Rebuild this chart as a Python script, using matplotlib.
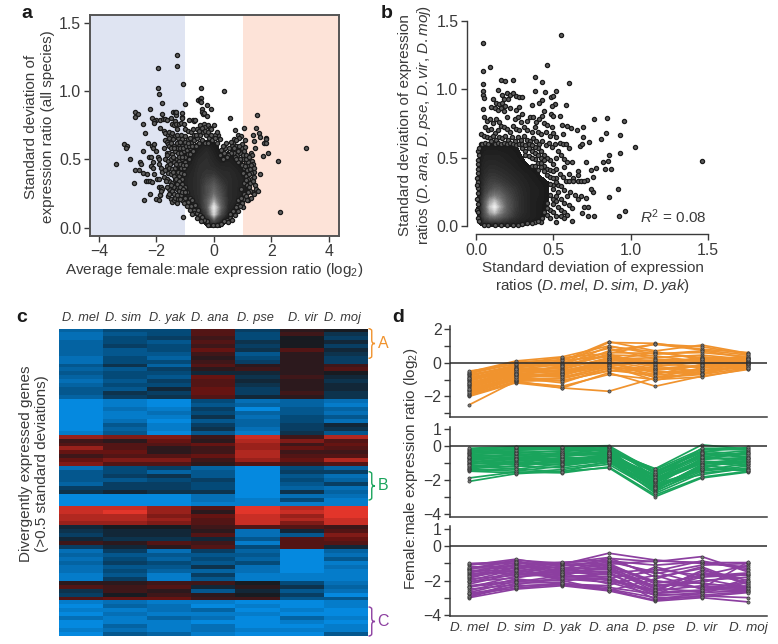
import matplotlib
matplotlib.use("Agg")
import matplotlib.pyplot as plt
import numpy as np
from matplotlib.colors import LinearSegmentedColormap, Normalize
from matplotlib.path import Path
from matplotlib.patches import PathPatch

plt.rcParams['font.family'] = ['Liberation Sans', 'DejaVu Sans']
plt.rcParams['mathtext.fontset'] = 'custom'
plt.rcParams['mathtext.rm'] = 'Liberation Sans'
plt.rcParams['mathtext.it'] = 'Liberation Sans:italic'
plt.rcParams['mathtext.bf'] = 'Liberation Sans:bold'

# ---------- DATA ----------
SPECIES = ['D. mel', 'D. sim', 'D. yak', 'D. ana', 'D. pse', 'D. vir', 'D. moj']

# Panel a: sparse points (ratio, sd)
A_POINTS = [
(-3.42,.47),(-3.13,.61),(-3.03,.60),(-3.06,.58),(-2.92,.50),(-2.75,.85),(-2.74,.81),(-2.63,.83),(-2.48,.76),(-2.40,.695),
(-2.24,.865),(-2.31,.62),(-2.47,.56),(-2.76,.42),(-2.77,.325),(-2.60,.425),(-2.58,.48),(-2.55,.47),(-2.46,.40),(-2.32,.395),
(-2.36,.34),(-2.28,.34),(-2.22,.345),(-2.16,.335),(-2.45,.205),(-2.21,.25),(-2.0,.21),(-1.9,.20),(-2.27,.52),(-2.2,.515),
(-2.13,.48),(-2.18,.45),(-2.12,.44),(-2.07,.39),(-1.98,.36),(-1.92,.355),(-1.88,.24),(-1.86,.24),(-1.9,.3),(-1.85,.3),
(-1.8,.28),(-1.85,.27),(-2.15,.60),(-2.12,.58),(-2.1,.61),(-2.0,.56),(-1.95,.52),(-1.9,.5),(-1.9,.47),(-1.85,.44),
(-1.8,.41),(-1.75,.37),(-1.93,1.165),(-1.27,1.26),(-1.28,1.18),(-1.07,1.05),(-1.94,1.025),(-1.9,.98),(-1.81,.915),(-2.0,.79),
(-2.15,.80),(-2.08,.78),(-2.1,.765),(-1.88,.73),(-1.8,.83),(-1.87,.79),(-1.78,.795),(-1.7,.795),(-1.62,.79),(-1.5,.80),
(-1.42,.845),(-1.35,.85),(-1.32,.825),(-1.33,.85),(-1.1,.84),(-1.1,.81),(-1.12,.80),(-1.0,.905),(-.88,.79),(-.73,.785),
(-.7,.78),(-.67,.79),(-.55,.935),(-.5,.945),(-.45,.95),(-.47,.93),(-.44,.92),(-.45,1.02),(.36,1.0),(-.25,.9),
(-.1,.87),(-.42,.87),(-.4,.85),(-.38,.83),(-.35,.84),(-.25,.815),(.55,.80),(-1.35,.78),(-1.45,.76),(-1.4,.75),
(-1.32,.76),(-1.2,.76),(-1.15,.765),(-1.05,.76),(-1.3,.72),(-1.0,.72),(-.9,.71),(-.8,.70),(-.7,.68),(-.6,.72),
(-.5,.75),(-.35,.76),(-.3,.74),(-.2,.75),(-.15,.73),(-.1,.72),(0,.75),(-1.75,.71),(-1.7,.69),(-1.6,.68),
(-1.55,.7),(-1.5,.68),(-1.45,.69),(-1.35,.67),(-1.25,.66),(-1.15,.68),(-1.1,.65),(-1.7,.64),(-1.65,.63),(-1.6,.61),
(-1.55,.6),(-1.5,.62),(-1.4,.6),(-1.3,.62),(-1.2,.6),(-1.1,.6),(-1.0,.63),(-.9,.65),(-.8,.62),(-.7,.6),
(-1.75,.58),(-1.65,.55),(-1.55,.55),(-1.45,.54),(-1.35,.56),(-1.25,.55),(-1.15,.55),(-1.05,.56),(-.95,.57),(-.85,.58),
(-1.7,.5),(-1.6,.49),(-1.5,.5),(-1.4,.48),(-1.3,.5),(-1.2,.49),(-1.1,.5),(-1.0,.52),(-1.65,.45),(-1.55,.44),
(-1.45,.43),(-1.35,.44),(-1.25,.45),(-1.15,.44),(-1.6,.4),(-1.5,.39),(-1.4,.38),(-1.3,.4),(-1.2,.38),(-1.55,.34),
(-1.45,.33),(-1.35,.35),(-1.55,.28),(-1.5,.26),(-1.45,.27),(-1.4,.3),(-1.3,.28),(-1.25,.3),(-1.2,.27),(-1.6,.23),
(-1.5,.21),(-1.45,.19),(-1.4,.2),(-1.35,.22),(-1.3,.18),(-1.25,.21),(-1.15,.24),(-1.1,.2),(-1.0,.22),(-1.07,.08),
(-.9,.19),(-.8,.16),(-.7,.13),(-.68,.11),(-.6,.11),(-.55,.13),(-.5,.09),
(1.485,.824),(1.45,.73),(1.58,.695),(1.80,.66),(1.80,.65),(1.74,.62),(1.80,.62),(1.89,.546),(1.70,.527),(1.44,.583),
(1.39,.633),(1.37,.68),(1.6,.665),(1.03,.73),(.85,.68),(.73,.715),(.7,.65),(.95,.67),(.87,.66),(1.08,.64),
(.82,.585),(.98,.58),(1.08,.59),(1.03,.56),(.43,.62),(.6,.58),(1.3,.545),(1.33,.53),(2.24,.49),(3.2,.58),
(2.3,.117),(1.6,.39),(1.39,.41),(1.31,.49),(1.35,.47),(1.48,.28),(1.53,.27),(1.43,.31),(1.32,.26),(1.0,.15),
(1.2,.2),(1.3,.22),(1.24,.27),(1.38,.25),(1.04,.21),(.79,.17),(.56,.07),
(1.0,.5),(1.1,.48),(1.2,.46),(1.05,.44),(1.15,.42),(1.25,.43),(1.0,.4),(1.1,.38),(1.2,.36),(1.3,.4),
(1.05,.33),(1.15,.31),(1.25,.33),(.95,.28),(1.05,.25),(.85,.2),(.95,.22),(.75,.15),(.65,.12),(.55,.1),
(.45,.06),(.35,.05),(.25,.03),(-.05,.02),(-.2,.02),(-.25,.05),(-.35,.06),(-.4,.08),(.1,.02),(.7,.55),
(.8,.53),(.9,.55),(.6,.55),(.5,.53),(.75,.6),(.65,.62),(.4,.58),(.3,.6),(.2,.65),(.15,.68),
(.1,.62),(.05,.68),(-1.05,.44),(-1.1,.36),(-1.0,.3),(-.95,.26),(-.85,.22),(-.75,.2),(-.65,.17),
(-1.28,.58),(-1.18,.58),(-1.08,.58),(-.98,.6),(-.88,.6),(-.78,.6),(-.68,.64),(-.58,.66),(-.48,.68),(-.38,.7),
(-.28,.68),(-.18,.66),(-.08,.64),(.02,.66),(.12,.7),(-.62,.6),(-.52,.62),(-.42,.64),(-.32,.62),(-.22,.62),
(-1.22,.52),(-1.12,.52),(-1.02,.48),(-.92,.54),(-.82,.54),(-.72,.56),(-1.28,.46),(-1.18,.47),(-1.08,.46),(-.98,.46),
(-.88,.5),(-1.25,.41),(-1.15,.4),(-1.05,.39),(-1.32,.36),(-1.22,.34),(-1.12,.32),(-1.28,.32),(-1.18,.3),(-1.08,.28),
(-1.12,.26),(-1.02,.26),(-1.05,.18),(-.95,.16),(-.85,.13),(-.75,.1),(-.6,.07),(-.45,.05),
(.98,.46),(1.08,.45),(1.18,.48),(1.28,.46),(1.13,.35),(1.23,.3),(1.18,.26),(1.1,.23),(1.15,.2),(.98,.18),
(.9,.16),(.82,.12),(.72,.09),(.62,.06),(.5,.04),(1.12,.5),(1.02,.53),(.92,.5),(.82,.56),(.62,.6),(.52,.58),
(.35,.55),(.25,.57),(.45,.52),(.72,.52),(.3,.5),(.22,.53),(.85,.48),(.78,.5),(1.22,.39),(1.32,.36),
(-1.62,.53),(-1.52,.47),(-1.42,.52),(-1.32,.47),(-1.48,.58),(-1.38,.58),(-1.58,.66),(-1.42,.65),(-1.28,.68),(-1.18,.63),
(-1.02,.67),(-.92,.62),(-.82,.66),(-.72,.72),(-.62,.68),(-.52,.71),(-.42,.73),(-.32,.71),(-.22,.7),(-.12,.68),
(-1.62,.36),(-1.5,.31),(-1.38,.25),(-1.28,.24),(-1.18,.21),(-1.62,.3),(-1.7,.42),(-1.68,.34),(-1.58,.25),(-1.42,.41),
(.98,.61),(.88,.6),(.78,.64),(.68,.58),(.58,.63),(1.12,.53),(1.22,.52),(1.38,.44),(1.36,.34),(1.4,.37),
]
A_DENS_X = [-1.5,-1.25,-1,-.75,-.5,-.25,0,.25,.5,.75,1,1.25]
A_DENS_Y = [0,.05,.10,.15,.20,.25,.30,.35,.40,.45,.50,.55,.60,.65]
A_DENS = [
[0,0,0,0,0,.2,.6,.2,0,0,0,0],
[0,0,0,0,.1,1.2,3,1.2,.35,0,0,0],
[0,0,0,.1,.8,2.5,7.5,3,1,.2,0,0],
[0,0,.1,.7,1.3,3.5,8.5,4,1.4,.7,.1,0],
[0,.1,.6,1.2,1.7,3.5,6,3.5,1.6,1.2,.6,0],
[0,.3,.9,1.3,1.8,3,4.5,3,1.6,1.3,.9,.15],
[0,.7,1.1,1.4,1.8,3,3.8,2.6,1.6,1.3,1,.3],
[.1,.8,1.1,1.4,1.8,2.5,3,2,1.6,1.3,1,.3],
[.1,.6,1,1.3,1.8,2,2,1.6,1.5,1.2,.8,.1],
[0,.4,.8,1.1,1.7,1.8,1.5,1.2,1.2,.9,.5,0],
[0,.2,.6,.9,1.5,1.7,1.2,.6,.9,.6,.1,0],
[0,0,.3,.6,1.1,1.5,.9,.3,.4,.1,0,0],
[0,0,0,.3,.8,1.1,.6,.1,0,0,0,0],
[0,0,0,0,.1,.2,.1,0,0,0,0,0],
]

# Panel b: sparse points (sd 1, sd 2)
B_POINTS = [
(.047,1.335),(.547,1.397),(.457,1.176),(.09,1.16),(.043,1.13),(.237,1.07),(.164,1.07),(.19,1.06),(.38,1.09),(.43,1.055),
(.6,1.047),(.045,1.037),(.14,.993),(.045,.983),(.384,.986),(.446,.98),(.52,.988),(.047,.957),(.05,.938),(.487,.945),
(.5,.95),(.43,.92),(.405,.896),(.36,.884),(.58,.886),(.51,.89),(.49,.877),(.047,.855),(.437,.842),(.54,.803),
(.487,.818),(.495,.803),(.43,.803),(.763,.78),(.847,.79),(.957,.77),(.84,.677),(.93,.665),(.806,.633),(.73,.616),
(.672,.587),(.683,.6),(.694,.653),(.69,.725),(.65,.7),(.614,.713),(.586,.73),(.554,.738),(1.028,.577),(.933,.536),
(1.461,.472),(.862,.516),(.851,.477),(.82,.465),(.87,.42),(.834,.42),(.776,.426),(.71,.465),(.745,.409),(.759,.36),
(.715,.336),(.759,.25),(.741,.268),(.92,.273),(.858,.21),(.711,.202),(.965,.107),(.922,.073),(.763,.073),(.722,.073),
(.619,.039),(.683,.097),(.7,.14),(.725,.136),(.52,.03),
(.11,.93),(.13,.9),(.15,.89),(.17,.9),(.19,.88),(.21,.93),(.2,.97),(.22,.96),(.24,.97),(.26,.95),(.28,.94),(.3,.94),
(.17,.96),(.18,.93),(.1,.87),(.12,.86),(.14,.85),(.16,.86),(.18,.84),(.22,.86),(.26,.85),(.28,.87),(.3,.82),(.35,.8),
(.37,.8),(.05,.8),(.07,.77),(.09,.78),(.11,.75),(.13,.78),(.15,.76),(.2,.8),(.25,.78),(.27,.8),(.29,.76),(.33,.77),
(.39,.76),(.41,.78),(.44,.75),(.46,.74),(.49,.72),(.06,.72),(.08,.7),(.1,.71),(.12,.68),(.14,.7),(.16,.73),(.18,.72),
(.2,.71),(.22,.69),(.24,.73),(.26,.71),(.28,.7),(.31,.72),(.33,.7),(.36,.69),(.38,.72),(.4,.69),(.42,.67),(.45,.69),
(.48,.66),(.5,.68),(.52,.65),(.56,.67),(.03,.67),(.05,.66),(.07,.65),(.09,.64),(.11,.66),(.13,.63),(.15,.65),(.17,.64),
(.19,.66),(.21,.63),(.23,.65),(.25,.62),(.27,.65),(.29,.63),(.31,.66),(.33,.63),(.35,.62),(.37,.64),(.39,.62),(.41,.6),
(.43,.62),(.45,.59),(.47,.61),(.49,.58),(.51,.6),(.54,.61),(.56,.6),(.58,.6),(.6,.57),(.53,.55),(.55,.52),(.57,.49),
(.59,.47),(.62,.47),(.66,.4),(.66,.37),(.63,.35),(.6,.38),(.57,.43),(.52,.5),(.5,.45),(.48,.48),(.46,.5),(.44,.52),
(.42,.55),(.4,.57),(.38,.58),(.36,.55),(.34,.57),(.32,.55),(.3,.57),(.42,.5),(.4,.46),(.38,.49),(.36,.44),(.44,.44),
(.46,.42),(.48,.41),(.5,.4),(.52,.42),(.54,.38),(.56,.36),(.58,.33),(.6,.33),(.63,.33),(.66,.33),(.68,.33),(.7,.33),
(.52,.35),(.5,.3),(.53,.3),(.55,.29),(.57,.26),(.59,.22),(.61,.25),(.64,.23),(.66,.2),(.68,.22),(.53,.25),(.5,.2),
(.52,.18),(.55,.2),(.57,.17),(.6,.15),(.62,.13),(.55,.12),(.57,.1),(.59,.08),(.53,.14),(.48,.12),(.5,.1),(.52,.07),
(.55,.07),(.57,.06),(.46,.08),(.43,.06),(.42,.03),(.38,.03),(.33,.02),(.27,.01),(.2,.01),(.12,.005),(.05,.005),
(.01,.06),(.005,.12),(.005,.2),(.01,.28),(.005,.35),(.01,.42),(.015,.48),(.01,.55),(.03,.6),(.02,.04),
(.04,.6),(.06,.61),(.08,.6),(.1,.62),(.12,.6),(.14,.61),(.16,.6),(.18,.61),(.2,.6),(.22,.61),(.24,.6),(.26,.59),
(.28,.6),(.3,.6),(.32,.59),(.34,.6),(.36,.59),(.32,.52),(.34,.51),(.36,.5),(.38,.53),(.4,.52),(.42,.46),(.44,.48),
(.38,.44),(.4,.41),(.42,.43),(.44,.4),(.46,.37),(.48,.36),(.5,.35),(.52,.32),(.48,.31),(.5,.27),(.52,.22),(.48,.23),
(.5,.16),(.46,.17),(.48,.06),(.44,.1),(.46,.13),(.4,.04),(.36,.02),(.3,.015),(.24,.01),(.16,.01),(.08,.005),(.015,.1),
(.01,.16),(.012,.24),(.015,.32),(.012,.39),(.015,.45),(.02,.52),(.02,.57),(.008,.3),
]
B_DENS_X = [0,.03,.06,.09,.12,.15,.2,.25,.3,.35,.4,.45,.5]
B_DENS_Y = [0,.03,.07,.1,.14,.18,.22,.27,.32,.37,.42,.47,.52,.57,.62]
B_DENS = [
[0,.3,.5,.5,.5,.5,.4,.4,.3,0,0,0,0],
[0,1.2,1.8,2,2,2,1.6,1.3,1,.7,.5,.2,0],
[0,1.5,3.2,4.4,4.8,4.2,3,2,1.3,1,.7,.3,0],
[0,1.6,3.6,6,7,5.5,3.6,2.2,1.5,1,.7,.4,0],
[0,1.6,4,7,9,6.5,3.8,2.4,1.5,1,.7,.4,0],
[0,1.5,3.8,6,7,5.6,3.6,2.4,1.5,1,.7,.5,0],
[0,1.3,3,4.4,5,4.6,3.2,2.2,1.5,1,.8,.5,.1],
[0,1.2,2.4,3,3.5,3.4,2.6,2,1.4,1,.8,.5,.1],
[0,1.1,2,2.5,2.6,2.4,2,1.6,1.2,.9,.6,.5,.1],
[0,1,1.7,2,2,1.9,1.6,1.3,1,.7,.5,0,0],
[0,.9,1.4,1.6,1.6,1.5,1.3,1,.7,.5,.2,0,0],
[0,.8,1.2,1.3,1.3,1.2,1,.8,.5,.1,0,0,0],
[0,.6,1,1,1,1,.8,.6,.3,0,0,0,0],
[0,.4,.6,.7,.7,.6,.6,.5,.1,0,0,0,0],
[0,0,0,0,0,0,0,0,0,0,0,0,0],
]

# Panel c: heat map, one row per gene cluster line, one value per species (-9 blue .. +9 red)
HEAT = [
[-6,-4,-4,3,-3,1,0],[-7,-5,-4,3,-4,2,-2],[-7,-4,-3,2,-4,0,-3],[-6,-4,-5,3,-2,0,-1],[-6,-3,-4,2,-3,0,-3],
[-6,-5,-4,4,-2,3,-1],[-6,-5,-5,2,-5,1,-2],[-7,-4,-6,1,-4,1,-3],[-7,-4,-4,2,-3,1,-3],
[-5,-2,-6,3,1,1,2],[-6,-5,-3,1,2,1,3],[-5,-4,-4,-1,-1,1,0],[-6,-4,-5,4,-2,2,-1],
[-7,-5,-3,3,-1,1,-2],[-6,-4,-4,3,-2,1,-1],[-5,-5,-1,4,-3,1,-1],[-5,-2,-3,4,-3,2,-2],[-6,-3,-2,3,-1,1,-2],
[-9,-8,-9,-4,-7,-6,-7],[-9,-8,-9,-5,-6,-6,-8],[-9,-7,-8,-3,-9,-5,-6],[-9,-8,-7,-4,-6,-5,-7],[-9,-8,-8,-2,-7,-4,-5],
[-9,-7,-9,-5,-6,-4,-7],[-9,-5,-8,-3,-6,-3,-1],[-9,-6,-8,-2,-7,-3,-2],[-8,-5,-9,-5,-8,-2,-5],
[6,5,5,2,8,2,7],[2,1,4,1,7,5,3],[3,3,3,4,6,2,4],[6,3,1,2,6,4,3],[4,4,1,2,7,2,2],
[2,3,3,4,7,3,3],[4,5,5,2,6,4,7],[5,3,3,1,3,2,3],
[-7,-4,-3,-6,-9,-4,-6],[-5,-4,-6,-5,-9,-3,-3],[-5,-3,-2,-5,-9,-5,-7],[-5,-5,-4,-3,-9,-4,-6],[-6,-3,-3,-4,-9,-5,-3],
[-3,-3,-3,-4,-9,-6,-7],[-2,-1,-2,-2,-9,-2,-6],
[-9,-9,-9,-7,-9,-7,-7],[-9,-9,-9,-7,-8,-4,-8],[-9,-9,-9,-8,-8,-8,-8],
[8,8,6,3,9,7,9],[8,9,6,1,9,8,9],[7,7,5,4,8,6,9],[7,7,6,3,8,7,8],[6,6,5,3,8,5,8],
[-1,0,0,2,3,3,2],[-2,-1,-1,1,-7,-1,3],[-3,-1,-1,3,-7,-5,5],[-1,-2,-2,-1,-5,3,4],[2,1,3,2,-8,3,3],[-3,-1,1,3,-4,3,-1],
[-7,-3,-7,-3,-6,-9,-6],[-6,-5,-5,-5,-5,-9,-7],[-7,-4,-6,-4,-6,-9,-5],[-6,-3,-4,-5,-4,-9,-8],[-7,-5,-5,-2,-7,-9,-7],
[-7,-4,-6,-6,-7,-9,-8],[-8,-5,-8,-3,-8,-8,-8],[-8,-3,-8,-5,-8,-8,-8],
[1,1,2,2,0,-4,-7],[3,2,3,-1,1,-2,-6],[-2,2,1,-5,-1,-5,-7],[-3,0,2,1,0,-3,-9],[3,4,4,2,2,-5,-5],
[-8,-7,-8,-8,-9,-9,-8],[-9,-6,-7,-9,-8,-9,-8],[-8,-8,-7,-6,-9,-8,-9],[-9,-7,-8,-8,-8,-9,-9],[-7,-8,-6,-7,-9,-6,-8],
[-9,-8,-8,-9,-9,-8,-9],[-9,-6,-8,-7,-9,-9,-8],[-8,-7,-8,-7,-8,-8,-8],[-9,-5,-6,-8,-9,-9,-5],
]

# Panel d: log2 ratios per gene across species
GROUP_A = [
[-2.5,-1.1,-1.5,-1.7,-.9,-.7,-.3],[-2.0,-1.2,-1.5,-.6,-1.4,-.8,-.4],[-1.95,-1.15,-1.4,-.7,-1.0,-.85,-.35],[-1.9,-1.1,-1.05,-.5,-.4,-.2,.1],
[-1.85,-1.0,-.9,-.2,-1.05,-.5,-.2],[-1.8,-.9,-1.2,-.3,-.85,-.65,-.1],[-1.7,-.85,-.8,.15,.6,.3,.2],[-1.65,-.8,-.6,.0,-.6,-.4,-.25],
[-1.6,-1.05,-.95,-.35,-.3,-.5,.05],[-1.5,-.75,-.4,.3,.1,.1,.3],[-1.45,-.7,-.75,.1,-.9,-.3,-.15],[-1.4,-.6,-.2,.5,-.2,.0,.1],
[-1.35,-.65,-.5,-.1,-.45,-.2,-.1],[-1.3,-.55,-.3,.7,1.1,.75,.45],[-1.25,-.5,-.55,.2,.3,.45,.2],[-1.2,-.45,-.7,-.2,-.7,-.1,.0],
[-1.15,-.75,-.15,.95,.65,.2,.3],[-1.1,-.4,-.1,.4,.0,-.3,-.05],[-1.05,-.35,-.35,.25,-.15,.35,.15],[-1.0,-.3,-.05,1.2,1.15,.8,.6],
[-.95,-.6,-.25,.45,.4,.05,.25],[-.9,-.25,.0,.6,.55,.6,.35],[-.85,-.5,-.45,-.05,-.55,-.6,-.2],[-.8,-.2,.1,1.25,.7,1.05,.55],
[-.75,-.15,.2,.85,.2,.15,.4],[-.7,-.3,-.6,-.15,.05,-.05,.05],[-.65,-.05,.3,.55,1.1,.95,.5],[-.6,.05,.15,.35,-.1,.25,.1],
[-.55,.1,.35,1.0,.5,.7,.3],[-.5,-.1,-.2,.05,-.35,-.15,-.05],[-1.75,-.95,-.65,.2,-.25,.1,.05],[-1.55,-.85,-1.1,-.45,-.75,-.45,-.3],
[-1.2,-.65,-.85,-.25,-.5,-.7,.0],[-.9,-.4,-.5,.1,.15,.2,.2],
]
GROUP_B = [
[-2.1,-1.65,-1.5,-1.3,-3.0,-1.9,-1.55],[-1.9,-1.55,-1.6,-1.25,-2.9,-1.85,-1.5],[-1.5,-1.6,-1.4,-1.1,-2.65,-1.5,-1.2],[-1.45,-1.35,-1.55,-.9,-2.5,-1.4,-1.4],
[-1.4,-1.5,-1.2,-.8,-2.6,-1.1,-.9],[-1.35,-1.2,-1.3,-1.0,-2.3,-1.7,-1.3],[-1.3,-1.05,-1.0,-.75,-2.2,-.9,-1.1],[-1.25,-.95,-1.15,-.9,-2.4,-1.3,-1.5],
[-1.2,-1.25,-.85,-.6,-2.1,-.8,-.7],[-1.1,-.9,-.7,-.7,-2.55,-1.2,-.95],[-1.05,-1.1,-1.1,-.85,-2.0,-1.0,-1.2],[-1.0,-.8,-.95,-.65,-1.9,-.7,-.8],
[-.95,-.75,-.6,-.5,-2.25,-1.45,-1.05],[-.9,-1.0,-.75,-.95,-2.7,-1.35,-.6],[-.85,-.65,-.9,-.55,-1.8,-.6,-1.0],[-.8,-.7,-.5,-.4,-2.15,-1.05,-.75],
[-.75,-.55,-.85,-.7,-1.7,-.55,-.5],[-.7,-.85,-.45,-.45,-2.05,-.95,-.9],[-.65,-.5,-.65,-.3,-1.6,-.4,-.65],[-.6,-.6,-.4,-.6,-2.35,-.75,-.45],
[-.55,-.35,-.55,-.35,-1.95,-.85,-.35],[-.5,-.45,-.3,-.25,-1.5,-.3,-.55],[-.45,-.3,-.35,-.15,-2.45,-1.25,-.85],[-.4,-.2,-.2,-.5,-1.75,-.5,-.3],
[-.35,-.4,-.5,-.2,-1.4,-.2,-.25],[-.3,-.15,-.25,-.1,-1.65,-.65,-.4],[-.25,-.25,-.15,-.05,-1.85,-.15,-.15],[-.2,-.1,-.1,-.35,-1.35,.05,-.2],
[-.15,-.05,-.05,0.0,-1.55,-.35,-.1],[-1.15,-1.4,-1.05,-.8,-2.8,-1.6,-1.35],[-.88,-1.15,-.8,-.55,-2.5,-1.15,-1.45],[-.68,-.78,-.6,-.42,-2.0,-.45,-.7],
]
GROUP_C = [
[-3.0,-2.5,-2.3,-2.6,-3.2,-3.0,-3.25],[-2.95,-2.3,-2.25,-2.55,-3.15,-2.9,-3.0],[-2.9,-2.15,-2.1,-1.5,-2.9,-2.7,-2.6],[-2.8,-2.45,-2.2,-2.4,-2.8,-2.85,-2.65],
[-2.7,-2.05,-1.95,-1.9,-2.6,-2.3,-2.5],[-2.6,-1.9,-2.2,-2.3,-1.2,-1.9,-2.4],[-2.5,-2.25,-1.8,-1.6,-2.75,-2.6,-2.3],[-2.4,-1.75,-1.65,-1.2,-2.45,-2.65,-1.9],
[-2.3,-2.0,-2.0,-2.6,-1.9,-1.2,-2.2],[-2.2,-1.6,-1.5,-1.0,-2.2,-2.4,-2.55],[-2.1,-1.5,-1.9,-2.1,-2.85,-1.6,-1.7],[-2.05,-1.85,-1.4,-.9,-1.5,-2.2,-2.35],
[-2.0,-1.35,-1.75,-1.75,-3.1,-2.75,-2.1],[-1.9,-1.7,-1.3,-.7,-.9,-.6,-1.5],[-1.85,-1.25,-1.6,-1.45,-2.3,-2.0,-1.8],[-1.8,-1.2,-1.25,-1.3,-2.65,-1.4,-2.0],
[-1.7,-1.1,-1.55,-2.2,-1.7,-2.5,-2.6],[-1.6,-1.55,-1.15,-.85,-1.1,-.9,-1.3],[-1.55,-1.05,-1.45,-1.35,-2.5,-1.8,-1.65],[-1.5,-.95,-1.1,-1.1,-2.05,-2.15,-2.45],
[-1.4,-1.45,-1.05,-.4,-.8,-1.0,-1.2],[-1.35,-.85,-1.35,-1.55,-1.35,-1.7,-1.1],[-1.3,-.8,-1.0,-1.25,-2.35,-2.1,-1.6],[-1.25,-1.3,-.98,-.65,-1.8,-1.3,-2.25],
[-1.2,-1.15,-.95,-1.05,-.85,-.95,-.95],[-1.1,-.75,-1.2,-1.95,-2.55,-1.5,-2.15],[-1.05,-1.0,-.93,-.8,-1.6,-1.1,-1.0],[-1.0,-.9,-1.5,-1.65,-2.0,-2.45,-.9],
[-2.75,-2.35,-2.15,-2.5,-3.0,-2.95,-2.7],[-2.35,-2.1,-1.7,-2.0,-2.7,-2.55,-2.05],[-1.75,-1.4,-1.85,-1.85,-1.45,-.85,-1.4],[-1.45,-1.65,-1.6,-1.15,-2.15,-1.75,-1.55],
]

A_SHADE_X = [-1, 1]
BAND_LEFT, BAND_RIGHT = '#dfe4f2', '#fde3d8'
INK = '#3a3a3a'
ORANGE, GREEN, PURPLE = '#f0932e', '#1aa45c', '#8c3fa0'
W, H = 778, 644

fig = plt.figure(figsize=(W/100, H/100), dpi=100)

def ax_px(l, t, r, b):
    return fig.add_axes([l/W, 1-b/H, (r-l)/W, (b-t)/H])

def ftext(x, y, s, **kw):
    kw.setdefault('color', INK)
    kw.setdefault('ha', 'center')
    kw.setdefault('va', 'center')
    kw.setdefault('linespacing', 1.2)
    return fig.text(x/W, 1-y/H, s, **kw)

FS = 11.0
dens_cmap = LinearSegmentedColormap.from_list('d', [(0, '#181818'), (.15, '#2c2c2c'), (.5, '#707070'), (.8, '#c8c8c8'), (1, '#efefef')])

def scatter_panel(ax, pts, dx, dy, dens, vmax):
    xs = [p[0] for p in pts]; ys = [p[1] for p in pts]
    ax.contourf(dx, dy, np.array(dens), levels=np.linspace(.35, vmax, 40), cmap=dens_cmap,
                norm=Normalize(.35, vmax), zorder=3, extend='max')
    ax.scatter(xs, ys, s=9, facecolor='#5e5e5e', edgecolor='#1a1a1a', linewidth=.9, zorder=4)

# Panel a
ax = ax_px(89.5, 14.7, 338.7, 236)
ax.set_xlim(-4.33, 4.34); ax.set_ylim(-.06, 1.558)
ax.axvspan(-4.33, A_SHADE_X[0], color=BAND_LEFT, lw=0, zorder=0)
ax.axvspan(A_SHADE_X[1], 4.34, color=BAND_RIGHT, lw=0, zorder=0)
scatter_panel(ax, A_POINTS, A_DENS_X, A_DENS_Y, A_DENS, 9)
ax.set_xticks([-4, -2, 0, 2, 4]); ax.set_xticklabels(['\u22124', '\u22122', '0', '2', '4'])
ax.set_yticks([0, .5, 1, 1.5]); ax.set_yticklabels(['0.0', '0.5', '1.0', '1.5'])
ax.tick_params(length=4, width=1, color=INK, labelcolor=INK, labelsize=11.4, pad=2)
for s in ax.spines.values():
    s.set_color('#555555'); s.set_linewidth(1.4)

# Panel b
ax = ax_px(466.7, 20.7, 708, 234.3)
ax.set_xlim(-.06, 1.5); ax.set_ylim(-.0606, 1.5)
scatter_panel(ax, B_POINTS, B_DENS_X, B_DENS_Y, B_DENS, 9)
ax.set_xticks([0, .5, 1, 1.5]); ax.set_xticklabels(['0.0', '0.5', '1.0', '1.5'])
ax.set_yticks([0, .5, 1, 1.5]); ax.set_yticklabels(['0.0', '0.5', '1.0', '1.5'])
ax.tick_params(length=4, width=1, color=INK, labelcolor=INK, labelsize=11.4, pad=2)
ax.spines[['top', 'right']].set_visible(False)
ax.spines['left'].set_bounds(0, 1.5); ax.spines['bottom'].set_bounds(0, 1.5)
for k in ('left', 'bottom'):
    ax.spines[k].set_color(INK); ax.spines[k].set_linewidth(1)

# Panel c
ax = ax_px(58.7, 328.7, 366.7, 636)
heat_cmap = LinearSegmentedColormap.from_list('h', [(0, '#0589df'), (.11, '#056fb6'), (.28, '#044a78'), (.5, '#181c22'), (.72, '#661412'), (1, '#e2352a')])
ax.imshow(np.array(HEAT), aspect='auto', cmap=heat_cmap, vmin=-9, vmax=9, interpolation='nearest')
ax.axis('off')
for x, s in zip([80, 123, 167, 210, 255, 303, 342], SPECIES):
    ftext(x, 318, s, fontsize=9.2, style='italic')

def brace(y0, y1, color, label):
    x0, x1 = 368.5/W, 375/W
    xm = (x0+x1)/2
    t, b = 1-y0/H, 1-y1/H
    m = (t+b)/2
    c = 2.2/H
    verts = [(x0, t), (xm, t), (xm, t-c), (xm, m+c*1.5), (xm, m), (x1, m), (xm, m), (xm, m-c*1.5), (xm, b+c), (xm, b), (x0, b)]
    codes = [Path.MOVETO, Path.CURVE3, Path.CURVE3, Path.LINETO, Path.CURVE3, Path.CURVE3, Path.CURVE3, Path.CURVE3, Path.LINETO, Path.CURVE3, Path.CURVE3]
    fig.add_artist(PathPatch(Path(verts, codes), fc='none', ec=color, lw=1, transform=fig.transFigure))
    ftext(383, (y0+y1)/2, label, color=color, fontsize=11.5)

brace(328.7, 358.3, ORANGE, 'A')
brace(471.7, 500, GREEN, 'B')
brace(607, 636, PURPLE, 'C')

# Panel d
def lines_panel(t, b, ylim, rows, color, yt, ytminor):
    ax = ax_px(450, t, 766.7, b)
    ax.set_xlim(-.415, 6.395); ax.set_ylim(*ylim)
    x = np.arange(len(SPECIES))
    for r in rows:
        ax.plot(x, r, color=color, lw=1.25, zorder=2, solid_joinstyle='round')
    for r in rows:
        ax.plot(x, r, ls='none', marker='o', ms=2.3, mfc='#777777', mec='#333333', mew=.45, zorder=3)
    ax.axhline(0, color='#2a2a2a', lw=1.1, zorder=4)
    ax.spines[['top', 'right']].set_visible(False)
    for k in ('left', 'bottom'):
        ax.spines[k].set_color(INK); ax.spines[k].set_linewidth(1.1)
    ax.set_yticks(yt); ax.set_yticklabels([str(v).replace('-', '\u2212') for v in yt])
    ax.set_yticks(ytminor, minor=True)
    ax.tick_params(axis='y', which='major', length=4, width=1, color=INK, labelcolor=INK, labelsize=11.4, pad=2)
    ax.tick_params(axis='y', which='minor', length=4, width=1, color=INK)
    ax.set_xticks([])
    return ax

lines_panel(326, 416.7, (-3.21, 2.18), GROUP_A, ORANGE, [2, 0, -2], [1, -1, -3])
lines_panel(426.7, 517, (-4.2, 1.12), GROUP_B, GREEN, [1, 0, -2, -4], [-1, -3])
ax = lines_panel(526, 616.3, (-4.09, 1.19), GROUP_C, PURPLE, [1, 0, -2, -4], [-1, -3])
ax.set_xticks(range(len(SPECIES))); ax.set_xticklabels(SPECIES, style='italic', fontsize=9.6, color=INK)
ax.tick_params(axis='x', length=0, pad=4)

# Text
ftext(27, 13, 'a', fontsize=14, fontweight='bold', color='#1a1a1a')
ftext(387, 13, 'b', fontsize=14, fontweight='bold', color='#1a1a1a')
ftext(22, 318, 'c', fontsize=14, fontweight='bold', color='#1a1a1a')
ftext(398, 318, 'd', fontsize=14, fontweight='bold', color='#1a1a1a')

ftext(39.5, 127, 'Standard deviation of\nexpression ratio (all species)', rotation=90, fontsize=FS)
ftext(214, 270, 'Average female:male expression ratio (log$_2$)', fontsize=FS)
ftext(415.5, 125, 'Standard deviation of expression\nratios ($\\mathit{D{.}ana}$, $\\mathit{D{.}pse}$, $\\mathit{D{.}vir}$, $\\mathit{D{.}moj}$)', rotation=90, fontsize=FS)
ftext(593, 278, 'Standard deviation of expression\nratios ($\\mathit{D{.}mel}$, $\\mathit{D{.}sim}$, $\\mathit{D{.}yak}$)', fontsize=FS)
ftext(707, 217, '$\\mathit{R}^2$ = 0.08', ha='right', fontsize=FS)
ftext(34, 464, 'Divergently expressed genes\n(>0.5 standard deviations)', rotation=90, fontsize=FS)
ftext(411, 469, 'Female:male expression ratio (log$_2$)', rotation=90, fontsize=FS)

fig.savefig('out.png', dpi=100)
